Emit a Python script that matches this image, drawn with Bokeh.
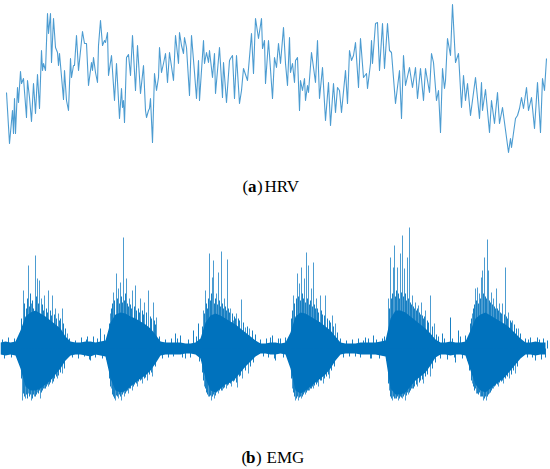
from bokeh.plotting import figure
from bokeh.layouts import column
from bokeh.models import Range1d, Label
from bokeh.embed import file_html
from bokeh.resources import INLINE

# ---------------- HRV (arbitrary units, up = larger) ----------------
hrv_t = [6, 9, 12, 13, 14, 15, 17, 18, 20, 21, 23, 26, 27, 29, 31, 33, 35, 37, 39, 41, 42, 43, 45, 47, 48, 50, 51, 53, 55, 57, 58, 59,
         63, 64, 66, 68, 70, 71, 73, 74, 76, 78, 82, 84, 86, 88, 91, 92, 93, 95, 97, 98, 100, 102, 104, 105, 107, 108, 111, 114, 116,
         119, 121, 122, 123, 124, 126, 128, 130, 132, 135, 137,
         140, 143, 145, 146, 148, 149, 150, 152, 154, 156, 158, 159, 161, 163, 165, 167, 169, 173, 175, 178, 179, 181, 183, 184, 186,
         189, 191, 194, 196, 198, 199, 203, 204, 206, 208, 209, 212, 214, 215, 219, 222, 223, 226, 229, 230, 232, 234, 236, 239, 241,
         243, 247, 251, 253, 255, 258, 261, 262, 264, 265, 268, 272, 274,
         276, 278, 280, 283, 285, 287, 289, 290, 292, 294, 295, 297, 299, 300, 302, 304, 305, 307, 308, 311, 315, 317, 319, 322, 325,
         328, 330, 333, 335, 337, 339, 341, 345, 347, 349, 351, 353, 355, 358, 360, 363, 366, 367, 370, 371, 372, 375, 377, 379, 382,
         384, 387, 389, 391, 395, 399, 401, 403, 405, 409,
         412, 415, 417, 420, 423, 425, 429, 431, 433, 436, 438, 440, 442, 444, 445, 447, 450, 452, 455, 458, 461, 463, 465, 467, 470,
         475, 479, 481, 482, 485, 489, 491, 494, 497, 499, 502, 506, 508, 510, 511, 515, 517, 519, 521, 523, 526, 528, 531, 534, 537,
         540, 542, 544, 546]
hrv_v = [68, 17, 50, 27, 62, 27, 73, 58, 89, 77, 82, 43, 80, 63, 39, 77, 47, 86, 52, 110, 90, 97, 90, 147, 127, 147, 98, 142, 113, 108, 95, 107,
         61, 90, 60, 50, 102, 83, 95, 95, 125, 90, 129, 117, 117, 75, 98, 90, 103, 88, 78, 115, 140, 115, 120, 118, 128, 85, 105, 60, 97,
         42, 72, 53, 60, 38, 103, 106, 85, 125, 70, 115,
         67, 95, 50, 43, 50, 52, 62, 18, 87, 70, 83, 113, 88, 97, 107, 78, 108, 80, 125, 97, 128, 115, 107, 123, 113,
         65, 125, 88, 62, 100, 60, 120, 97, 108, 98, 110, 83, 107, 67, 113, 63, 98, 58, 100, 102, 105, 62, 105, 57, 70,
         92, 80, 127, 87, 142, 122, 142, 112, 120, 77, 120, 62, 103,
         93, 117, 97, 133, 97, 75, 123, 88, 97, 78, 100, 103, 50, 80, 70, 82, 60, 75, 68, 108, 78, 120, 62, 93, 40,
         78, 35, 77, 48, 73, 70, 48, 90, 57, 110, 100, 105, 118, 73, 122, 83, 87, 72, 97, 120, 97, 137, 138, 90, 137,
         92, 137, 110, 108, 57, 90, 42, 105, 75, 93,
         73, 93, 62, 92, 60, 92, 68, 107, 98, 60, 70, 28, 92, 72, 80, 122, 105, 156, 98, 107, 53, 85, 60, 77, 45,
         83, 42, 78, 50, 71, 28, 60, 37, 68, 37, 53, 23, 8, 22, 13, 42, 45, 52, 63, 52, 73, 50, 63, 32, 78,
         28, 82, 70, 102]

# ---------------- EMG (baseline 0, up = positive) ----------------
# dense envelope sampled every 5 samples
emg_t = list(range(0, 550, 5))
emg_hi = [6, 7, 6, 7, 18, 32, 36, 38, 35, 32, 28, 24, 20, 12, 7, 6, 6, 7, 7, 6, 7, 8,
          26, 34, 36, 35, 32, 30, 27, 24, 20, 14, 7, 6, 6, 6, 6, 5, 5, 6,
          10, 26, 33, 35, 33, 30, 27, 24, 20, 16, 12, 8, 5, 5, 6, 6, 5, 6,
          16, 32, 36, 35, 32, 29, 26, 22, 18, 12, 6, 5, 5, 5, 6, 6, 6, 6, 7, 8,
          30, 38, 38, 36, 32, 28, 24, 20, 15, 9, 6, 6, 7, 6, 6, 7,
          18, 30, 34, 36, 33, 30, 27, 24, 20, 15, 10, 6, 6, 7, 6, 6]
emg_lo = [-6, -7, -6, -7, -20, -38, -42, -42, -40, -36, -32, -26, -20, -12, -7, -6, -6, -7, -8, -6, -7, -8,
          -30, -42, -44, -42, -38, -34, -30, -27, -22, -15, -7, -6, -6, -6, -6, -5, -5, -6,
          -10, -30, -42, -44, -40, -36, -34, -30, -24, -18, -13, -8, -5, -5, -6, -6, -5, -6,
          -20, -42, -45, -42, -38, -34, -30, -26, -20, -12, -6, -5, -5, -5, -6, -6, -6, -6, -7, -8,
          -40, -46, -46, -44, -38, -32, -28, -24, -17, -9, -6, -6, -7, -6, -6, -7,
          -22, -36, -42, -44, -40, -36, -32, -28, -22, -16, -10, -6, -6, -7, -6, -6]

# tallest excursions
spike_t = [23, 28, 31, 35, 37, 39, 41, 44, 48, 52, 55, 58, 62, 67,
           110, 113, 116, 118, 120, 123, 126, 129, 132, 135, 140, 144, 148, 153, 156,
           203, 205, 209, 212, 213, 216, 218, 221, 224, 227, 230, 233, 236, 241, 245, 249,
           293, 297, 299, 301, 304, 306, 308, 311, 313, 316, 320, 325, 332, 335,
           388, 390, 393, 394, 397, 400, 402, 404, 407, 409, 412, 415, 418, 421, 425, 430, 434,
           472, 475, 477, 479, 481, 482, 484, 487, 488, 491, 493, 496, 499, 502, 505, 508, 512, 518,
           22, 25, 28, 31, 34, 37, 40, 44, 48, 52, 57, 62,
           111, 115, 118, 121, 124, 128, 132, 137, 142, 147, 152,
           204, 208, 211, 214, 218, 222, 226, 231, 237, 242, 248,
           292, 295, 298, 301, 305, 309, 313, 318, 323, 329,
           389, 392, 395, 398, 402, 405, 408, 412, 417, 423, 430,
           472, 476, 480, 483, 486, 489, 493, 498, 503, 509, 515]
spike_v = [58, 83, 45, 93, 70, 68, 50, 53, 58, 53, 40, 35, 40, 15,
           35, 56, 75, 60, 66, 111, 70, 50, 58, 63, 50, 46, 58, 46, 31,
           38, 58, 95, 71, 88, 55, 76, 97, 50, 89, 40, 28, 35, 49, 21, 20,
           53, 75, 65, 81, 70, 96, 83, 60, 86, 50, 53, 53, 33, 25,
           50, 91, 81, 103, 81, 95, 113, 80, 91, 121, 53, 46, 43, 46, 38, 53, 25,
           35, 60, 61, 55, 71, 78, 91, 109, 78, 56, 50, 60, 45, 45, 81, 36, 28, 20,
           -52, -50, -45, -52, -48, -44, -50, -40, -38, -35, -30, -25,
           -40, -52, -50, -52, -48, -45, -42, -38, -35, -32, -28,
           -38, -48, -52, -50, -45, -42, -40, -38, -39, -30, -25,
           -40, -52, -52, -50, -46, -42, -40, -38, -35, -30,
           -42, -52, -50, -52, -50, -52, -46, -40, -38, -35, -28,
           -35, -45, -48, -52, -52, -45, -40, -38, -35, -30, -25]

# medium excursions inside the bursts
mid_t = [21, 24, 26, 27, 29, 30, 32, 33, 36, 38, 42, 43, 46, 47, 50, 51, 54, 56, 59, 60, 63, 65,
         109, 111, 112, 114, 117, 119, 121, 122, 124, 125, 127, 128, 130, 131, 134, 136, 138, 139, 142, 143, 146, 150, 151, 154, 155,
         202, 204, 206, 207, 208, 210, 211, 214, 215, 217, 219, 220, 222, 223, 225, 226, 228, 229, 232, 234, 235, 238, 239, 243, 247, 252, 255,
         291, 292, 294, 296, 298, 300, 302, 303, 305, 307, 309, 310, 312, 314, 315, 317, 318, 321, 322, 324, 327, 329, 330, 333, 337,
         389, 391, 392, 395, 396, 398, 399, 401, 403, 405, 406, 408, 410, 411, 413, 414, 416, 417, 419, 420, 422, 423, 424, 427, 428, 432, 436,
         470, 471, 473, 474, 476, 478, 480, 483, 485, 486, 489, 490, 492, 494, 495, 497, 498, 500, 501, 504, 506, 507, 510, 511, 514, 516, 520,
         21, 23, 24, 26, 27, 29, 30, 32, 33, 35, 36, 38, 39, 41, 42, 43, 45, 46, 47, 49, 50, 53, 54, 56, 58, 60, 64,
         109, 110, 112, 113, 114, 116, 117, 119, 120, 122, 123, 125, 126, 127, 129, 130, 133, 134, 136, 138, 140, 141, 144, 145, 149, 151, 155,
         202, 203, 205, 206, 207, 209, 210, 212, 213, 215, 216, 217, 219, 220, 221, 223, 224, 227, 228, 230, 233, 234, 236, 239, 240, 245, 250, 253,
         291, 293, 294, 296, 297, 299, 300, 302, 303, 304, 306, 307, 308, 310, 311, 312, 314, 316, 317, 320, 321, 324, 326, 328, 331, 334,
         388, 390, 391, 393, 394, 396, 397, 399, 400, 401, 403, 404, 406, 407, 409, 410, 411, 413, 414, 416, 419, 420, 422, 425, 427, 432, 435,
         469, 471, 473, 474, 475, 477, 478, 479, 481, 482, 484, 485, 487, 488, 490, 491, 492, 494, 495, 497, 499, 501, 502, 505, 507, 511, 513, 517]
mid_v = [30, 45, 40, 50, 42, 55, 48, 40, 52, 45, 44, 38, 40, 36, 38, 33, 34, 30, 28, 30, 25, 20,
         25, 40, 45, 48, 50, 45, 52, 46, 48, 55, 45, 42, 44, 40, 42, 38, 40, 36, 38, 34, 36, 32, 30, 28, 24,
         22, 35, 45, 40, 50, 48, 55, 45, 50, 44, 48, 42, 45, 40, 42, 38, 40, 36, 35, 32, 30, 30, 28, 26, 22, 18, 14,
         30, 38, 45, 50, 52, 48, 55, 50, 46, 50, 44, 48, 42, 44, 40, 40, 36, 38, 34, 33, 30, 28, 26, 22, 16,
         40, 50, 55, 52, 58, 55, 50, 56, 52, 55, 48, 50, 46, 44, 42, 40, 38, 40, 36, 34, 33, 30, 32, 28, 26, 22, 14,
         25, 30, 40, 44, 48, 45, 50, 55, 52, 50, 48, 46, 44, 42, 40, 40, 38, 36, 35, 34, 32, 30, 28, 26, 24, 20, 15,
         -30, -45, -48, -46, -50, -48, -46, -50, -46, -48, -46, -45, -42, -44, -42, -40, -40, -38, -36, -36, -34, -33, -30, -28, -27, -24, -20,
         -30, -38, -46, -48, -50, -47, -48, -46, -48, -46, -44, -45, -43, -42, -40, -40, -38, -36, -35, -33, -32, -31, -30, -29, -26, -24, -18,
         -24, -32, -40, -44, -46, -48, -47, -48, -46, -47, -44, -43, -42, -40, -42, -40, -39, -37, -36, -35, -33, -32, -34, -28, -27, -22, -18, -14,
         -30, -44, -48, -50, -48, -49, -48, -48, -46, -44, -44, -42, -42, -40, -40, -38, -37, -36, -34, -32, -32, -30, -28, -26, -22, -18,
         -35, -48, -50, -48, -50, -50, -48, -50, -48, -49, -48, -46, -47, -44, -44, -42, -40, -40, -38, -36, -34, -32, -31, -28, -26, -20, -14,
         -22, -32, -38, -42, -40, -45, -46, -44, -48, -48, -50, -48, -48, -46, -44, -42, -40, -38, -37, -36, -34, -33, -32, -30, -28, -26, -22, -18]

# small excursions in the quiet stretches
quiet_t = [2, 4, 8, 11, 14, 17,
           69, 72, 75, 78, 81, 84, 86, 87, 89, 90, 93, 95, 97, 100, 102, 104, 106,
           159, 162, 165, 168, 171, 173, 175, 177, 180, 182, 185, 188, 190, 193, 196, 198, 199,
           260, 263, 266, 268, 270, 272, 274, 275, 278, 280, 283, 285, 288,
           340, 343, 346, 349, 352, 355, 358, 360, 363, 365, 368, 370, 371, 373, 376, 379, 382, 384, 386,
           438, 440, 442, 444, 447, 450, 452, 454, 455, 458, 460, 462, 465, 467,
           525, 527, 528, 530, 532, 535, 537, 539, 541, 543, 545, 547]
quiet_v = [9, -10, 11, -9, 10, -11,
           10, -9, 8, -10, 11, -8, 9, 12, -11, -12, 12, -9, 10, 20, -10, 14, -11,
           12, -10, 9, -9, 10, -8, 15, 10, 13, -9, -10, 9, -9, 18, 12, 25, -13,
           9, -8, 10, -9, 11, 13, -10, -12, 10, 10, -9, 11, -10,
           10, -9, 8, -8, 9, -8, 10, -9, 8, 11, 10, -10, -10, 13, 9, -10, 10, 12, -12,
           12, -10, 15, 10, -11, 31, 10, -9, -14, 18, 12, -10, 13, -12,
           10, -9, 9, 11, -9, -12, 11, 9, -11, 10, -9, 8]

BLUE = "#0072BD"
X_RANGE = (0, 548)
W = 548


def caption(p, pieces, y):
    for x, txt, style in pieces:
        p.add_layout(Label(x=x, y=y, text=txt, text_font="Liberation Serif", text_font_size="17px",
                           text_font_style=style, text_color="black",
                           text_baseline="alphabetic", text_align="left"))


# ---------------- figure (a) HRV ----------------
p1 = figure(width=W, height=205, output_backend="svg", toolbar_location=None,
            x_axis_type=None, y_axis_type=None, min_border=0,
            x_range=Range1d(*X_RANGE), y_range=Range1d(-45, 160))
p1.outline_line_color = None
p1.grid.visible = False
p1.line(hrv_t, hrv_v, line_color=BLUE, line_width=1.1, line_alpha=0.7, line_join="round")
caption(p1, [(242, "(", "normal"), (247.5, "a", "bold"), (256.5, ")", "normal"), (264, "HRV", "normal")], -26)

# ---------------- figure (b) EMG ----------------
p2 = figure(width=W, height=264, output_backend="svg", toolbar_location=None,
            x_axis_type=None, y_axis_type=None, min_border=0,
            x_range=Range1d(*X_RANGE), y_range=Range1d(-121, 143))
p2.outline_line_color = None
p2.grid.visible = False
p2.varea(x=emg_t, y1=emg_lo, y2=emg_hi, fill_color=BLUE, fill_alpha=1.0)
p2.segment(x0=mid_t, y0=[0] * len(mid_t), x1=mid_t, y1=mid_v,
           line_color=BLUE, line_width=1, line_alpha=0.9)
p2.segment(x0=quiet_t, y0=[0] * len(quiet_t), x1=quiet_t, y1=quiet_v,
           line_color=BLUE, line_width=1, line_alpha=0.9)
p2.segment(x0=spike_t, y0=[0] * len(spike_t), x1=spike_t, y1=spike_v,
           line_color=BLUE, line_width=1, line_alpha=0.7)
caption(p2, [(241, "(", "normal"), (245.5, "b", "bold"), (255.5, ")", "normal"), (266, "EMG", "normal")], -109)

layout = column(p1, p2, spacing=0)
open("out.html", "w").write(file_html(layout, INLINE))
